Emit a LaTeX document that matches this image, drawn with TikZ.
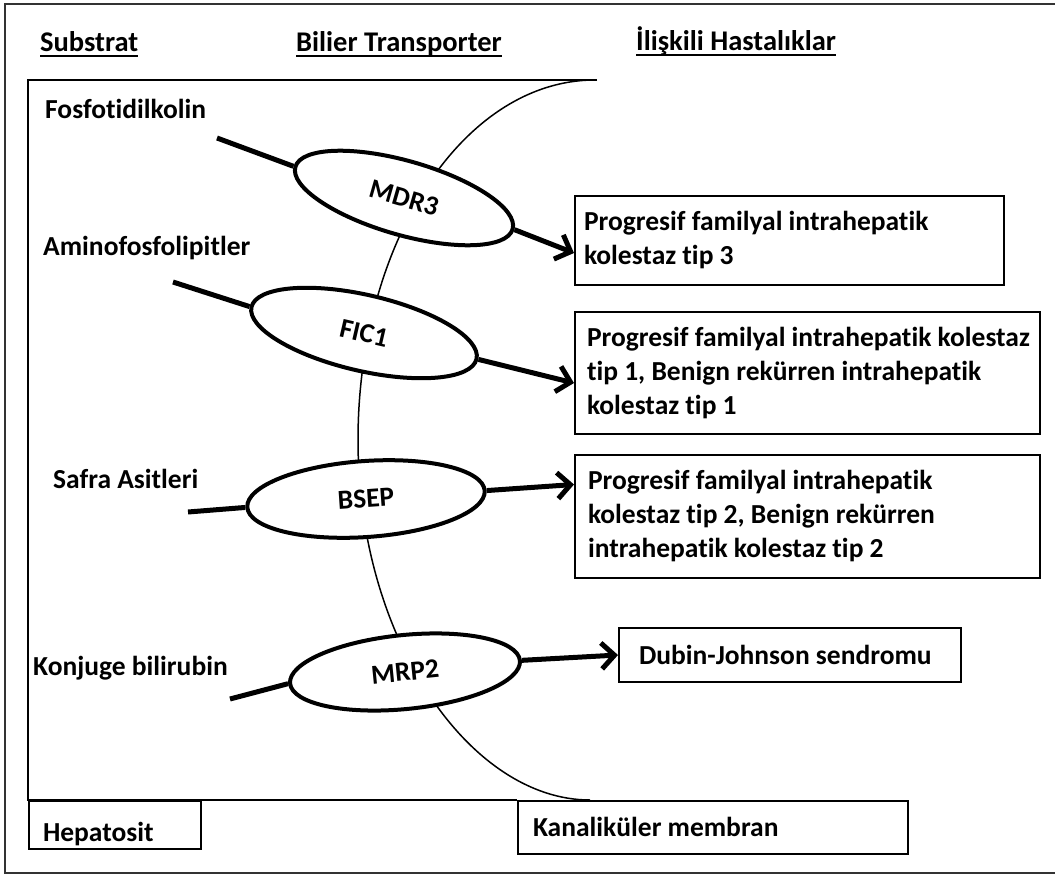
\documentclass[tikz,border=0pt]{standalone}
\usepackage{fontspec}
\setmainfont{Carlito}[Ligatures={NoCommon,NoContextual}]
\usetikzlibrary{shapes.geometric,arrows.meta}
\begin{document}
\begin{tikzpicture}[x=1pt,y=-1pt,
  font=\fontsize{27.5}{34}\selectfont\bfseries,
  lbl/.style={anchor=base west, inner sep=0pt},
  hdr/.style={anchor=base west, inner sep=0pt, font=\fontsize{28.5}{34}\selectfont\bfseries},
  uline/.style={line width=2pt},
  tp/.style={ellipse, draw, line width=4pt, fill=white, inner sep=0pt},
  dbox/.style={draw, line width=2pt, anchor=north west, align=left, inner ysep=0pt},
  bbox/.style={draw, line width=2pt, anchor=north west, align=left, inner ysep=0pt},
  sub/.style={line width=5pt},
  arr/.style={line width=5pt, -{Straight Barb[length=13pt,width=26pt]}},
  frame/.style={line width=2pt},
  membrane/.style={line width=1.5pt}
]
\useasboundingbox (0,0) rectangle (1055,875);
\fill[white] (0,0) rectangle (1055,875);
% outer frame
\draw[black!80, line width=2pt] (1057,4) -- (5,4) -- (5,873) -- (1057,873);

% headers
\node[hdr] (h1) at (40,52) {Substrat};
\node[hdr] (h2) at (296,52) {Bilier Transporter};
\node[hdr] (h3) at (636,51) {İlişkili Hastalıklar};
\draw[uline] ([yshift=-4pt]h1.base west) -- ([yshift=-4pt]h1.base east);
\draw[uline] ([yshift=-4pt]h2.base west) -- ([yshift=-4pt]h2.base east);
\draw[uline] ([yshift=-4pt]h3.base west) -- ([yshift=-4pt]h3.base east);

% hepatocyte outline and canalicular membrane
\draw[frame] (597,80) -- (28,80) -- (28,800) -- (517,800);
\draw[membrane] (595,80) .. controls (464,80) and (358,241) .. (358,440)
                .. controls (358,639) and (470,800) .. (590,800);

% bottom boxes
\node[bbox, minimum width=172, minimum height=48, text width=144, inner xsep=14pt,
      text height=40pt, text depth=8pt] (hep) at (28,800) {\spaceskip=0pt\relax Hepatosit};
\node[bbox, minimum width=390, minimum height=53, text width=360, inner xsep=15pt,
      text height=35pt, text depth=18pt] (kan) at (517,800) {\spaceskip=0pt\relax Kanaliküler membran};

% substrates
\node[lbl] (l1) at (45,118) {Fosfotidilkolin};
\node[lbl] (l2) at (43,255) {Aminofosfolipitler};
\node[lbl] (l3) at (53,488) {Safra Asitleri};
\node[lbl] (l4) at (33,675) {Konjuge bilirubin};

\coordinate (s1) at (217,138);
\coordinate (s2) at (173,282);
\coordinate (s3) at (188,512);
\coordinate (s4) at (230,699);

% transporters
\node[tp, minimum width=226, minimum height=74, rotate=-16] (mdr3) at (404,198) {MDR3};
\node[tp, minimum width=231, minimum height=76, rotate=-13] (fic1) at (364,333) {FIC1};
\node[tp, minimum width=238, minimum height=76, rotate=4] (bsep) at (366,499) {BSEP};
\node[tp, minimum width=231, minimum height=74, rotate=5.7] (mrp2) at (405,672) {MRP2};

% diseases
\node[dbox, minimum width=429, minimum height=89, text width=411, inner xsep=9pt] (d1) at (574,195)
  {\spaceskip=0pt\relax\mbox{Progresif familyal intrahepatik}\\\mbox{kolestaz tip 3}};
\node[dbox, minimum width=465, minimum height=122, text width=441, inner xsep=12pt] (d2) at (574,311)
  {\spaceskip=0pt\relax\mbox{Progresif familyal intrahepatik kolestaz}\\\mbox{tip 1, Benign rekürren intrahepatik}\\\mbox{kolestaz tip 1}};
\node[dbox, minimum width=465, minimum height=123, text width=439, inner xsep=13pt] (d3) at (574,454)
  {\spaceskip=0pt\relax\mbox{Progresif familyal intrahepatik}\\\mbox{kolestaz tip 2, Benign rekürren}\\\mbox{intrahepatik kolestaz tip 2}};
\node[dbox, minimum width=342, minimum height=54, text width=302, inner xsep=20pt] (d4) at (618,627)
  {\spaceskip=0pt\relax\mbox{Dubin-Johnson sendromu}};

% connectors
\draw[sub] (s1) -- (mdr3.west);
\draw[sub] (s2) -- (fic1.west);
\draw[sub] (s3) -- (bsep.west);
\draw[sub] (s4) -- (mrp2.west);
\draw[arr] (mdr3.east) -- ([yshift=-12.5pt]d1.west);
\draw[arr] (fic1.east) -- ([yshift=-10pt]d2.west);
\draw[arr] (bsep.east) -- ([yshift=32pt]d3.west);
\draw[arr] (mrp2.east) -- (d4.west);
\end{tikzpicture}
\end{document}
